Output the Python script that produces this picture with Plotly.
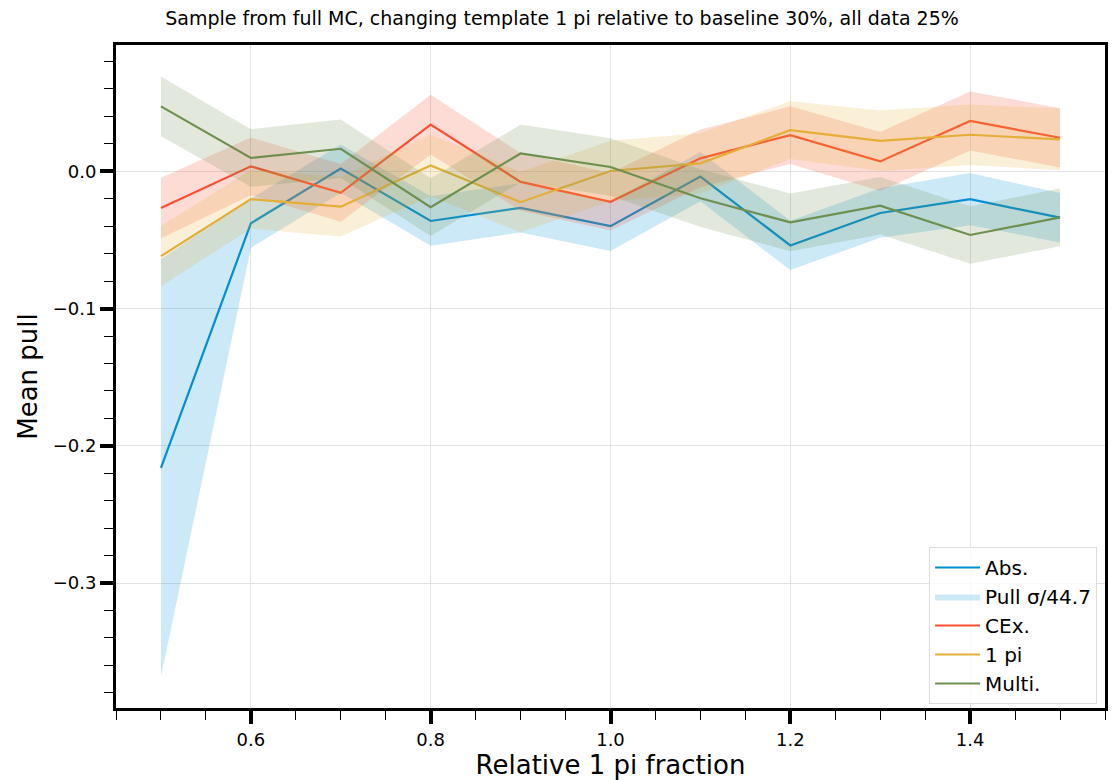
import plotly.graph_objects as go

fractions = [0.5, 0.6, 0.7, 0.8, 0.9, 1.0, 1.1, 1.2, 1.3, 1.4, 1.5]

abs_mean = [-0.216, -0.0379, 0.002, -0.0362, -0.0266, -0.040, -0.0039, -0.054, -0.0304, -0.0203, -0.0338]
abs_err = [0.152, 0.018, 0.0176, 0.018, 0.018, 0.018, 0.018, 0.018, 0.018, 0.019, 0.018]

cex_mean = [-0.0268, 0.0036, -0.0157, 0.034, -0.0077, -0.0222, 0.0094, 0.0263, 0.0072, 0.0367, 0.0244]
cex_err = [0.022, 0.021, 0.021, 0.0217, 0.021, 0.021, 0.021, 0.021, 0.0215, 0.0215, 0.0216]

pi_mean = [-0.0618, -0.0203, -0.0258, 0.0043, -0.0225, 0.0002, 0.0058, 0.030, 0.0222, 0.0266, 0.0232]
pi_err = [0.022, 0.0215, 0.0218, 0.0225, 0.022, 0.022, 0.022, 0.021, 0.022, 0.022, 0.0225]

multi_mean = [0.0473, 0.0097, 0.0164, -0.0261, 0.013, 0.0031, -0.0196, -0.0372, -0.0251, -0.0464, -0.0336]
multi_err = [0.0217, 0.021, 0.0213, 0.021, 0.021, 0.021, 0.021, 0.021, 0.021, 0.021, 0.021]

series = [
    ("Abs.", abs_mean, abs_err, (0, 143, 213), "Pull σ/44.7"),
    ("CEx.", cex_mean, cex_err, (252, 79, 48), None),
    ("1 pi", pi_mean, pi_err, (229, 174, 56), None),
    ("Multi.", multi_mean, multi_err, (109, 144, 79), None),
]

fig = go.Figure()
for name, mean, err, rgb, band_name in series:
    col = "rgb(%d,%d,%d)" % rgb
    fill = "rgba(%d,%d,%d,0.2)" % rgb
    upper = [m + e for m, e in zip(mean, err)]
    lower = [m - e for m, e in zip(mean, err)]
    fig.add_trace(go.Scatter(
        x=fractions, y=mean, mode="lines", name=name,
        line=dict(color=col, width=2.2),
    ))
    fig.add_trace(go.Scatter(
        x=fractions + fractions[::-1], y=upper + lower[::-1],
        fill="toself", fillcolor=fill, mode="lines",
        line=dict(width=0, color=fill),
        name=band_name if band_name else name + " band",
        showlegend=band_name is not None, hoverinfo="skip",
    ))

font = "DejaVu Sans, sans-serif"
fig.update_layout(
    width=1112, height=780,
    margin=dict(l=116, r=4, t=45, b=68),
    paper_bgcolor="white", plot_bgcolor="white",
    font=dict(family=font, size=18, color="black"),
    title=dict(text="Sample from full MC, changing template 1 pi relative to baseline 30%, all data 25%",
               x=0.5054, xanchor="center", xref="container", y=0.977, yanchor="middle",
               font=dict(size=19, family=font, color="black")),
    legend=dict(x=0.992, y=0.006, xanchor="right", yanchor="bottom",
                bgcolor="rgba(255,255,255,0.8)", bordercolor="#dddddd", borderwidth=1,
                font=dict(size=20, family=font), tracegroupgap=0, itemwidth=45),
    showlegend=True,
)
fig.update_xaxes(
    range=[0.45, 1.55], dtick=0.2, tick0=0, tickformat=".1f",
    showline=True, linecolor="black", linewidth=3, mirror=True,
    ticks="outside", ticklen=13, tickwidth=4, tickcolor="black",
    showgrid=True, gridcolor="#e3e3e3", gridwidth=1, zeroline=False,
    minor=dict(dtick=0.05, tick0=0, ticks="outside", ticklen=9, tickwidth=1, tickcolor="black", showgrid=False),
    title=dict(text="Relative 1 pi fraction", font=dict(size=26, family=font), standoff=8),
    tickfont=dict(size=18),
)
fig.update_yaxes(
    range=[-0.391, 0.092], dtick=0.1, tick0=0, tickformat=".1f",
    showline=True, linecolor="black", linewidth=3, mirror=True,
    ticks="outside", ticklen=13, tickwidth=4, tickcolor="black",
    showgrid=True, gridcolor="#e3e3e3", gridwidth=1, zeroline=False,
    minor=dict(dtick=0.02, tick0=0, ticks="outside", ticklen=9, tickwidth=1, tickcolor="black", showgrid=False),
    title=dict(text="Mean pull", font=dict(size=26, family=font), standoff=8),
    tickfont=dict(size=18),
)

fig.write_html("out.html")
